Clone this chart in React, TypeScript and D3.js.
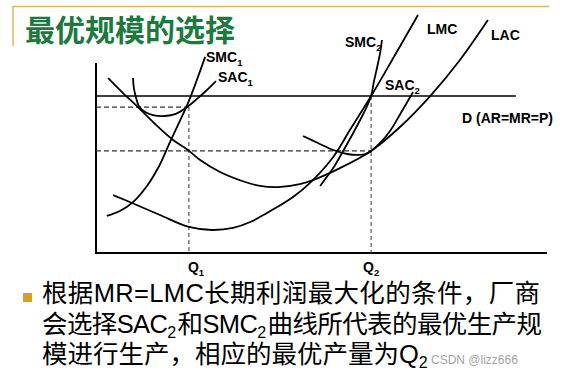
import React from 'react';
import * as d3 from 'd3';

const W = 567;
const H = 376;

// Abstract data space: quantity 0..100 (x), cost 0..100 (y, axis top = 100)
const priceLevel = 82.6; // D (AR=MR=P)
const sac1Level = 76.8;
const lacTangentLevel = 53.7;
const q1 = 20.6;
const q2 = 61.0;
const demandEnd = 93.1;

const LAC: [number, number][] = [
  [2.7, 92.1], [6.0, 84.2], [9.3, 76.8], [13.1, 67.9], [17.1, 59.5], [20.4, 54.2],
  [23.1, 48.9], [27.5, 42.6], [32.4, 37.9], [36.4, 35.3], [40.4, 34.7], [45.2, 36.3],
  [48.1, 38.4], [54.1, 44.7], [61.0, 53.7], [67.4, 66.3], [74.1, 82.6], [80.7, 101.6],
  [86.9, 122.6],
];

const LMC: [number, number][] = [
  [3.8, 30.5], [8.0, 26.3], [14.2, 20.0], [20.6, 13.7], [25.7, 12.1], [30.4, 13.2],
  [34.2, 16.3], [37.9, 21.1], [43.7, 29.5], [48.1, 38.4], [52.6, 50.5], [56.3, 64.7],
  [61.0, 82.6], [66.3, 104.2], [71.4, 125.3],
];

const SMC1: [number, number][] = [
  [2.4, 19.5], [5.3, 22.1], [8.2, 26.8], [11.3, 35.3], [14.0, 45.8], [16.4, 58.4],
  [18.6, 69.5], [20.4, 78.9], [22.2, 90.0], [24.2, 103.2],
];

const SAC1: [number, number][] = [
  [8.2, 92.1], [8.4, 86.8], [8.9, 81.6], [9.5, 77.4], [10.9, 74.2], [12.6, 72.6],
  [15.3, 72.1], [17.7, 73.2], [20.2, 76.8], [22.4, 81.1], [24.6, 85.8], [26.6, 90.5],
];

const SMC2: [number, number][] = [
  [49.7, 35.3], [51.0, 39.5], [52.6, 44.7], [54.3, 51.6], [56.3, 60.0], [58.1, 67.9],
  [59.7, 75.3], [61.0, 82.6], [61.6, 90.0], [62.3, 97.4], [63.0, 105.3], [63.4, 112.1],
];

const SAC2: [number, number][] = [
  [45.9, 61.6], [49.2, 57.9], [52.6, 54.2], [55.7, 52.1], [58.1, 51.6], [59.7, 52.1],
  [61.0, 53.7], [63.0, 57.9], [65.2, 64.2], [67.6, 73.7], [70.3, 84.7],
];

const titleText = '最优规模的选择';
const bodyLine1 = '根据MR=LMC长期利润最大化的条件，厂商';
const bodyLine2 = ['会选择SAC', '2', '和SMC', '2', '曲线所代表的最优生产规'];
const bodyLine3 = ['模进行生产，相应的最优产量为Q', '2'];

const LABEL_FONT = "'Liberation Sans', Arial, sans-serif";
const BODY_FONT = "'Liberation Sans', Arial, 'Noto Sans CJK SC', sans-serif";

function Sub({ main, sub, x, y, size = 14 }: { main: string; sub?: string; x: number; y: number; size?: number }) {
  return (
    <text x={x} y={y} fontFamily={LABEL_FONT} fontWeight="bold" fontSize={size} fill="#000">
      {main}
      {sub ? (
        <tspan dy={size * 0.3} fontSize={size * 0.68}>{sub}</tspan>
      ) : null}
    </text>
  );
}

export default function App() {
  const x = d3.scaleLinear().domain([0, 100]).range([96, 547]);
  const y = d3.scaleLinear().domain([0, 100]).range([253, 63]);
  const line = d3
    .line<[number, number]>()
    .x((d) => x(d[0]))
    .y((d) => y(d[1]))
    .curve(d3.curveCatmullRom.alpha(0.5));

  const curves = [LAC, LMC, SMC1, SAC1, SMC2, SAC2];
  const bodySize = 25.5;
  const subSize = 16;
  const subShift = 5;

  return (
    <svg
      width={W}
      height={H}
      style={{ position: 'absolute', left: 0, top: 0, background: '#fff' }}
    >
      {/* slide decoration */}
      <line x1={13} y1={6.5} x2={549} y2={6.5} stroke="#d9b95c" strokeWidth={1.5} />
      <line x1={13} y1={6} x2={13} y2={46} stroke="#d9b95c" strokeWidth={1.5} />
      <text
        x={25}
        y={41}
        fontFamily="'Noto Sans CJK SC', sans-serif"
        fontWeight="bold"
        fontSize={30}
        fill="#1b7a3e"
      >
        {titleText}
      </text>

      {/* axes */}
      <path
        d={`M${x(0)},${y(100)}V${y(0)}H${x(100)}`}
        fill="none"
        stroke="#000"
        strokeWidth={2}
      />

      {/* demand line */}
      <line x1={x(0)} x2={x(demandEnd)} y1={y(priceLevel)} y2={y(priceLevel)} stroke="#000" strokeWidth={1.6} />

      {/* dashed guides */}
      <g stroke="#333" strokeWidth={1.2} strokeDasharray="5,3" fill="none">
        <line x1={x(0)} x2={x(q1)} y1={y(sac1Level)} y2={y(sac1Level)} />
        <line x1={x(0)} x2={x(q2)} y1={y(lacTangentLevel)} y2={y(lacTangentLevel)} />
      </g>
      <g stroke="#555" strokeWidth={1.2} strokeDasharray="4,3" fill="none">
        <line x1={x(q1)} x2={x(q1)} y1={y(sac1Level)} y2={y(0)} />
        <line x1={x(q2)} x2={x(q2)} y1={y(priceLevel)} y2={y(0)} />
      </g>

      {/* curves */}
      <g fill="none" stroke="#000" strokeWidth={1.8}>
        {curves.map((c, i) => (
          <path key={i} d={line(c) || ''} />
        ))}
      </g>

      {/* curve labels */}
      <Sub main="SMC" sub="1" x={206} y={62} />
      <Sub main="SAC" sub="1" x={218} y={82} />
      <Sub main="SMC" sub="2" x={345} y={47} />
      <Sub main="LMC" x={427} y={34} />
      <Sub main="LAC" x={491} y={40} />
      <Sub main="SAC" sub="2" x={385} y={90} />
      <text x={462} y={123} fontFamily={LABEL_FONT} fontWeight="bold" fontSize={14} fill="#000">
        D (AR=MR=P)
      </text>
      <Sub main="Q" sub="1" x={x(q1) - 1} y={272} />
      <Sub main="Q" sub="2" x={x(q2) - 8} y={272} />

      {/* bullet text */}
      <rect x={23} y={293} width={9} height={9} fill="#d4a21e" />
      <g fontFamily={BODY_FONT} fontSize={bodySize} fill="#000">
        <text x={42} y={302} textLength={498} lengthAdjust="spacing">
          {bodyLine1}
        </text>
        <text x={42} y={332.5} textLength={500} lengthAdjust="spacing">
          {bodyLine2[0]}
          <tspan dy={subShift} fontSize={subSize}>{bodyLine2[1]}</tspan>
          <tspan dy={-subShift} dx={2}>{bodyLine2[2]}</tspan>
          <tspan dy={subShift} fontSize={subSize}>{bodyLine2[3]}</tspan>
          <tspan dy={-subShift} dx={2}>{bodyLine2[4]}</tspan>
        </text>
        <text x={42} y={363}>
          {bodyLine3[0]}
          <tspan dy={subShift} fontSize={subSize}>{bodyLine3[1]}</tspan>
        </text>
      </g>
      <text x={431} y={364} fontFamily={LABEL_FONT} fontSize={12} fill="#a3a3a3">
        CSDN @lizz666
      </text>
    </svg>
  );
}
